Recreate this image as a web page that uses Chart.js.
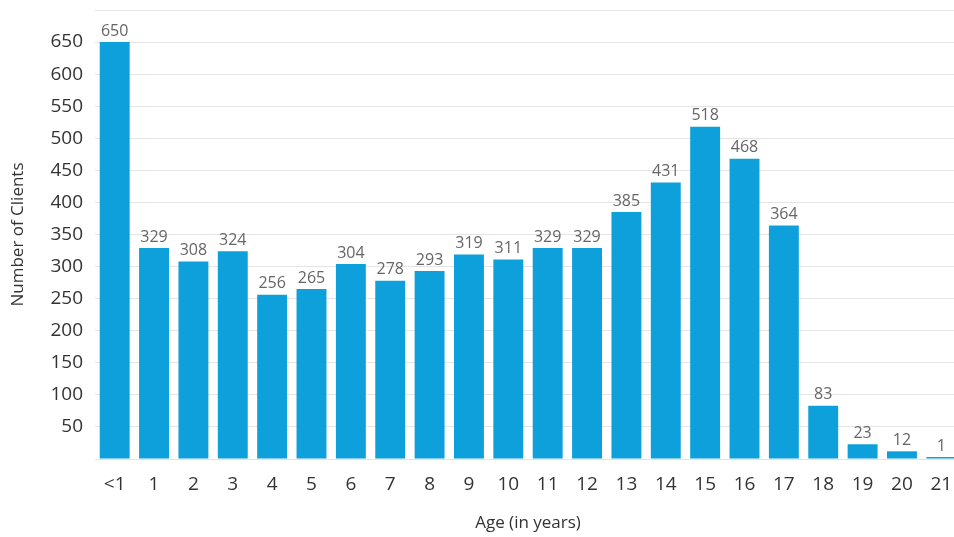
<!DOCTYPE html>
<html>
<head>
<meta charset="utf-8">
<script src="https://cdn.jsdelivr.net/npm/chart.js@4/dist/chart.umd.min.js"></script>
<style>
  html, body { margin: 0; padding: 0; background: #fff; overflow: hidden; }
  #wrap { width: 961px; height: 537px; position: relative; }
</style>
</head>
<body>
<div id="wrap"><canvas id="chart"></canvas></div>
<script>
// Client counts by age
const ages = ['<1', '1', '2', '3', '4', '5', '6', '7', '8', '9', '10',
              '11', '12', '13', '14', '15', '16', '17', '18', '19', '20', '21'];
const clients = [650, 329, 308, 324, 256, 265, 304, 278, 293, 319, 311,
                 329, 329, 385, 431, 518, 468, 364, 83, 23, 12, 1];
const yTicks = [50, 100, 150, 200, 250, 300, 350, 400, 450, 500, 550, 600, 650];

const FONT = "'Open Sans', 'Noto Sans', sans-serif";

// Writes each bar's value just above it
const valueLabels = {
  id: 'valueLabels',
  afterDatasetsDraw(chart) {
    const ctx = chart.ctx;
    const meta = chart.getDatasetMeta(0);
    ctx.save();
    ctx.font = '16px ' + FONT;
    ctx.fillStyle = '#666666';
    ctx.textAlign = 'center';
    ctx.textBaseline = 'bottom';
    meta.data.forEach((bar, i) => {
      ctx.fillText(String(clients[i]), bar.x, bar.y - 3);
    });
    ctx.restore();
  }
};

new Chart(document.getElementById('chart'), {
  type: 'bar',
  data: {
    labels: ages,
    datasets: [{
      data: clients,
      backgroundColor: '#0EA0DA',
      borderWidth: 0,
      categoryPercentage: 1.0,
      barPercentage: 0.76,
      minBarLength: 2
    }]
  },
  options: {
    responsive: true,
    maintainAspectRatio: false,
    animation: false,
    layout: { padding: { top: 0, left: 8, right: 0, bottom: 4 } },
    plugins: { legend: { display: false }, tooltip: { enabled: false } },
    scales: {
      x: {
        grid: { display: false },
        border: { display: false },
        ticks: { color: '#333333', font: { family: FONT, size: 19 }, padding: 6, maxRotation: 0, autoSkip: false },
        title: { display: true, text: 'Age (in years)', color: '#333333', font: { family: FONT, size: 17 }, padding: { top: 12, bottom: 0 } },
        afterFit(scale) { scale.height = 537 - 459 - 4; }
      },
      y: {
        min: 0,
        max: 700,
        afterBuildTicks(scale) {
          scale.ticks = [0].concat(yTicks, [700]).map(v => ({ value: v }));
        },
        grid: { color: '#e4e4e4', drawTicks: false, lineWidth: 1 },
        border: { display: false },
        ticks: {
          color: '#333333',
          font: { family: FONT, size: 19 },
          padding: 12,
          callback: v => (yTicks.includes(v) ? String(v) : '')
        },
        title: { display: true, text: 'Number of Clients', color: '#333333', font: { family: FONT, size: 17 }, padding: { top: 0, bottom: 4 } },
        afterFit(scale) {
          scale.width = 95 - 8;
          scale.paddingTop = 10;
        }
      }
    }
  },
  plugins: [valueLabels]
});
</script>
</body>
</html>
